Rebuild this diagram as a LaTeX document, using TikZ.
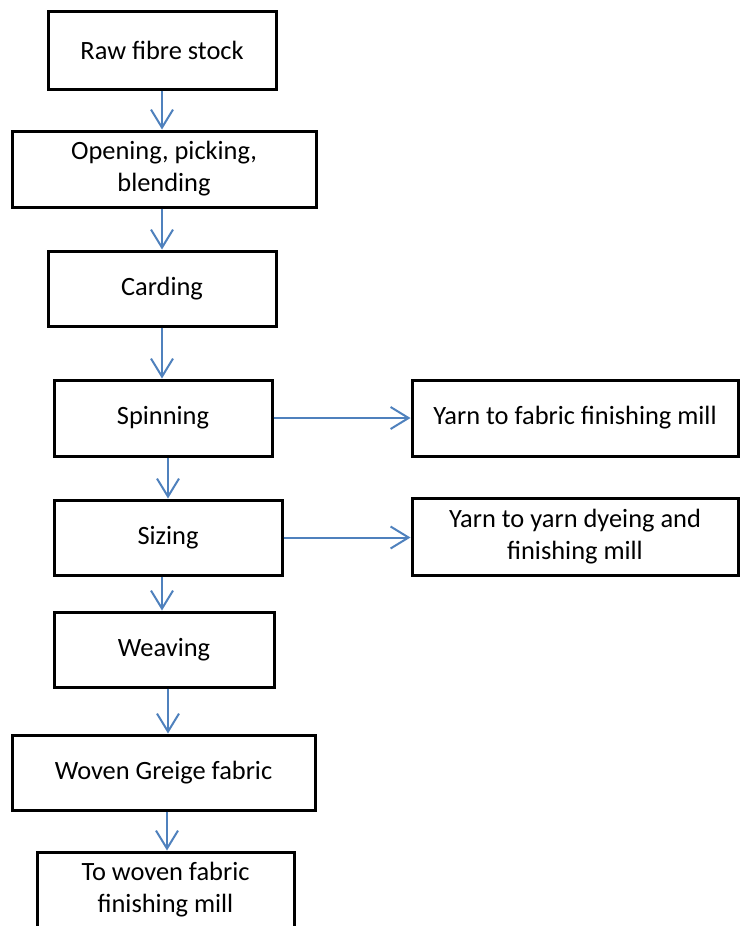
\documentclass[tikz,border=0pt]{standalone}
\usepackage{fontspec}
\setmainfont{Carlito}
\usetikzlibrary{arrows.meta}
\definecolor{arrblue}{HTML}{4F81BD}
\begin{document}
\begin{tikzpicture}[x=0.5pt,y=-0.5pt,
  box/.style={draw=black,line width=1.5pt,fill=white,align=center,inner sep=0pt,
    font=\fontsize{13.2pt}{16pt}\selectfont},
  arr/.style={draw=arrblue,line width=1pt,-{Straight Barb[length=9pt,width=11pt,line width=1pt]}}]
\useasboundingbox (0,0) rectangle (739,926);
\node[box,minimum width=114pt,minimum height=39pt] (n1) at (162,50) {Raw fibre stock};
\node[box,minimum width=152pt,minimum height=38pt] (n2) at (164,169) {Opening, picking,\\blending};
\node[box,minimum width=114pt,minimum height=37.5pt] (n3) at (162,288.5) {Carding};
\node[box,minimum width=109pt,minimum height=38pt] (n4) at (163,418) {Spinning};
\node[box,minimum width=163pt,minimum height=38pt] (n5) at (575,418) {Yarn to fabric finishing mill};
\node[box,minimum width=114pt,minimum height=37.5pt] (n6) at (168,537.5) {Sizing};
\node[box,minimum width=163pt,minimum height=38.5pt] (n7) at (575,536.5) {Yarn to yarn dyeing and\\finishing mill};
\node[box,minimum width=110pt,minimum height=37.5pt] (n8) at (164,649.5) {Weaving};
\node[box,minimum width=151.5pt,minimum height=37.5pt] (n9) at (163.5,772.5) {Woven Greige fabric};
\node[box,minimum width=128.5pt,minimum height=38pt] (n10) at (165.5,890) {To woven fabric\\finishing mill};
\coordinate (c12) at (162,0);
\coordinate (c23) at (162,0);
\coordinate (c34) at (162,0);
\coordinate (c46) at (168,0);
\coordinate (c68) at (162,0);
\coordinate (c89) at (168,0);
\coordinate (c910) at (167,0);
\draw[arr] (n1.south -| c12) -- (n2.north -| c12);
\draw[arr] (n2.south -| c23) -- (n3.north -| c23);
\draw[arr] (n3.south -| c34) -- (n4.north -| c34);
\draw[arr] (n4.south -| c46) -- (n6.north -| c46);
\draw[arr] (n6.south -| c68) -- (n8.north -| c68);
\draw[arr] (n8.south -| c89) -- (n9.north -| c89);
\draw[arr] (n9.south -| c910) -- (n10.north -| c910);
\draw[arr] (n4.east) -- (n5.west);
\draw[arr] (n6.east) -- (n5.west |- n6.east);
\end{tikzpicture}
\end{document}
